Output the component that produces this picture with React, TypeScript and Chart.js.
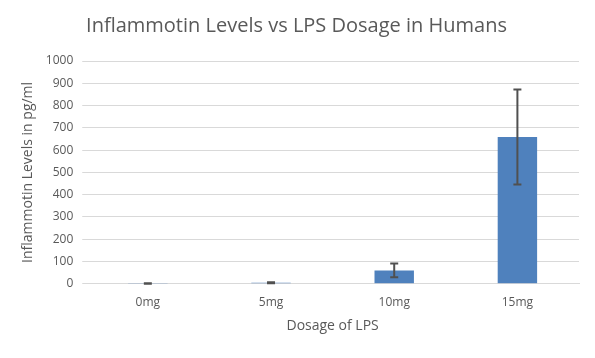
import { useEffect, useRef } from "react";
import { Chart, registerables } from "chart.js";
Chart.register(...registerables);

const categories = ["0mg", "5mg", "10mg", "15mg"];
const meanValues = [1, 5, 60, 659];
const errorValues = [1, 2, 31, 213];
const yMin = 0;
const yMax = 1000;
const yStep = 100;

const FONT = "'Open Sans', 'Liberation Sans', sans-serif";
const GREY = "#595959";

const errorBarPlugin = {
  id: "errorBars",
  afterDatasetsDraw(chart: any) {
    const ctx = chart.ctx;
    const meta = chart.getDatasetMeta(0);
    const yScale = chart.scales.y;
    ctx.save();
    ctx.strokeStyle = "#505050";
    ctx.lineWidth = 2;
    meta.data.forEach((bar: any, i: number) => {
      const v = meanValues[i];
      const e = errorValues[i];
      const x = bar.x;
      const yt = yScale.getPixelForValue(v + e);
      const yb = yScale.getPixelForValue(Math.max(v - e, 0));
      const cap = 4;
      ctx.beginPath();
      ctx.moveTo(x, yt);
      ctx.lineTo(x, yb);
      ctx.moveTo(x - cap, yt);
      ctx.lineTo(x + cap, yt);
      ctx.moveTo(x - cap, yb);
      ctx.lineTo(x + cap, yb);
      ctx.stroke();
    });
    ctx.restore();
  },
};

export default function App() {
  const ref = useRef<HTMLCanvasElement>(null);
  useEffect(() => {
    document.body.style.margin = "0";
    const chart = new Chart(ref.current!, {
      type: "bar",
      data: {
        labels: categories,
        datasets: [
          {
            data: meanValues,
            backgroundColor: "#4f81bd",
            barPercentage: 0.32,
            categoryPercentage: 1,
          },
        ],
      },
      options: {
        animation: false,
        responsive: false,
        layout: { padding: { left: 14, right: 16, top: 0, bottom: 24 } },
        plugins: {
          legend: { display: false },
          tooltip: { enabled: false },
          title: {
            display: true,
            text: "Inflammotin Levels vs LPS Dosage in Humans",
            color: GREY,
            font: { family: FONT, size: 20, weight: "normal" },
            padding: { top: 14, bottom: 23 },
          },
        },
        scales: {
          x: {
            grid: { display: false },
            border: { color: "#d9d9d9" },
            ticks: { color: GREY, font: { family: FONT, size: 12 }, padding: 4 },
            title: {
              display: true,
              text: "Dosage of LPS",
              color: GREY,
              font: { family: FONT, size: 14 },
              padding: { top: 3, bottom: 0 },
            },
          },
          y: {
            min: yMin,
            max: yMax,
            ticks: {
              stepSize: yStep,
              color: GREY,
              font: { family: FONT, size: 12 },
              padding: 9,
              callback: (v: any) => String(v),
            },
            grid: { color: "#d9d9d9", tickLength: 4, drawTicks: true },
            border: { display: false },
            title: {
              display: true,
              text: "Inflammotin Levels in pg/ml",
              color: GREY,
              font: { family: FONT, size: 14 },
              padding: { top: 6, bottom: 0 },
            },
          },
        },
      },
      plugins: [errorBarPlugin],
    });
    return () => chart.destroy();
  }, []);
  return (
    <div style={{ position: "absolute", left: 0, top: 0, width: 595, height: 358 }}>
      <canvas ref={ref} width={595} height={358} />
    </div>
  );
}
